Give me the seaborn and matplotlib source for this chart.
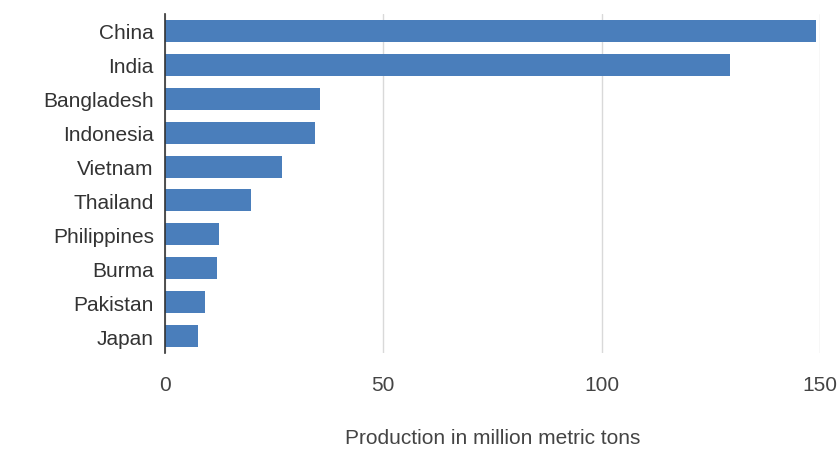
import matplotlib
matplotlib.use("Agg")
import matplotlib.pyplot as plt
import seaborn as sns
import pandas as pd

countries = ["China", "India", "Bangladesh", "Indonesia", "Vietnam",
             "Thailand", "Philippines", "Burma", "Pakistan", "Japan"]
production = [149, 129.5, 35.6, 34.4, 26.8, 19.7, 12.4, 12.0, 9.2, 7.6]
x_ticks = [0, 50, 100, 150]

df = pd.DataFrame({"country": countries, "production": production})

sns.set_theme(style="white")
plt.rcParams["font.family"] = ["Liberation Sans", "DejaVu Sans"]

fig = plt.figure(figsize=(8.4, 4.52), dpi=100)
ax = fig.add_axes([165 / 840, 1 - 354 / 452, (820 - 165) / 840, (354 - 15) / 452])

sns.barplot(data=df, x="production", y="country", color="#4a7ebb",
            saturation=1, width=0.65, linewidth=0, ax=ax)

ax.set_xlim(0, 150)
ax.set_xticks(x_ticks)
ax.set_xticklabels([str(t) for t in x_ticks])
ax.xaxis.grid(True, color="#d9d9d9", linewidth=1)
ax.set_axisbelow(True)
for s in ["top", "right", "bottom"]:
    ax.spines[s].set_visible(False)
ax.spines["left"].set_color("#333333")
ax.spines["left"].set_linewidth(1.2)

ax.tick_params(axis="x", length=8, color="#d9d9d9", pad=8,
               labelsize=15, labelcolor="#444444")
ax.tick_params(axis="y", length=0, pad=8, labelsize=15, labelcolor="#333333")
ax.set_ylabel("")
ax.set_xlabel("Production in million metric tons", fontsize=15,
              color="#444444", labelpad=24)

fig.savefig("out.png", dpi=100)
